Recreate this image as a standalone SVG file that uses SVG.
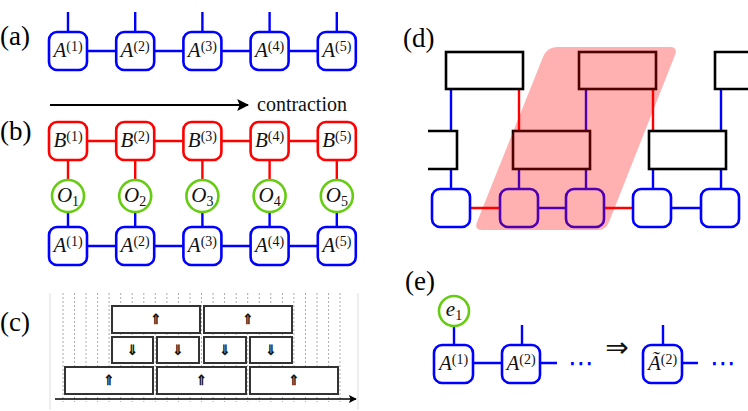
<svg xmlns="http://www.w3.org/2000/svg" width="748" height="411" viewBox="0 0 748 411">
<style>
.t{font-size:21px;fill:#111;text-anchor:middle}
.it{font-style:italic}
.bn{fill:#fff;stroke:#0000ff;stroke-width:2.6}
.rn{fill:#fff;stroke:#ff0000;stroke-width:2.6}
.gn{fill:#fff;stroke:#66cc11;stroke-width:2.6}
.bl{stroke:#0000ff;stroke-width:2.4;fill:none}
.rl{stroke:#ff0000;stroke-width:2.4;fill:none}
.kb{fill:#fff;stroke:#000;stroke-width:2.6}
.cb{fill:#fff;stroke:#333;stroke-width:2}
.dash{stroke:#aaa;stroke-width:1;stroke-dasharray:2 2}
.sym{font-size:14px;fill:#000;stroke:#000;stroke-width:0.4;text-anchor:middle}
</style>
<defs>
<marker id="ah" viewBox="0 0 10 10" refX="9" refY="5" markerWidth="6" markerHeight="6" orient="auto"><path d="M0,0 L10,5 L0,10 L2,5 Z" fill="#000"/></marker>
</defs>

<g font-family="'Times New Roman', 'Liberation Serif', serif">
<!-- labels -->
<g font-size="27" fill="#000">
<text x="0" y="45">(a)</text>
<text x="0" y="140">(b)</text>
<text x="0" y="331">(c)</text>
<text x="403" y="47">(d)</text>
<text x="405" y="290">(e)</text>
</g>

<!-- (a) -->
<g id="a-connectors">
<path class="bl" d="M68,12V32 M135.2,12V32 M202.4,12V32 M269.6,12V32 M336.8,12V32 M87,51H116.2 M154.2,51H183.4 M221.4,51H250.6 M288.6,51H317.8"/>
</g>
<g id="a-A1"><rect class="bn" x="49" y="32" width="38" height="38" rx="8"/><text class="t" x="68" y="57"><tspan class="it">A</tspan><tspan dy="-6" font-size="14">(1)</tspan></text></g>
<g id="a-A2"><rect class="bn" x="116.2" y="32" width="38" height="38" rx="8"/><text class="t" x="135.2" y="57"><tspan class="it">A</tspan><tspan dy="-6" font-size="14">(2)</tspan></text></g>
<g id="a-A3"><rect class="bn" x="183.4" y="32" width="38" height="38" rx="8"/><text class="t" x="202.4" y="57"><tspan class="it">A</tspan><tspan dy="-6" font-size="14">(3)</tspan></text></g>
<g id="a-A4"><rect class="bn" x="250.6" y="32" width="38" height="38" rx="8"/><text class="t" x="269.6" y="57"><tspan class="it">A</tspan><tspan dy="-6" font-size="14">(4)</tspan></text></g>
<g id="a-A5"><rect class="bn" x="317.8" y="32" width="38" height="38" rx="8"/><text class="t" x="336.8" y="57"><tspan class="it">A</tspan><tspan dy="-6" font-size="14">(5)</tspan></text></g>

<!-- (b) -->
<g id="b-arrow">
<line x1="50" y1="105" x2="248" y2="105" stroke="#000" stroke-width="2" marker-end="url(#ah)"/>
<text x="257" y="111" font-size="20" fill="#111">contraction</text>
</g>
<g id="b-connectors">
<path class="rl" d="M87,141H116.2 M154.2,141H183.4 M221.4,141H250.6 M288.6,141H317.8 M68,160V180 M135.2,160V180 M202.4,160V180 M269.6,160V180 M336.8,160V180"/>
<path class="bl" d="M87,246H116.2 M154.2,246H183.4 M221.4,246H250.6 M288.6,246H317.8 M68,212V227 M135.2,212V227 M202.4,212V227 M269.6,212V227 M336.8,212V227"/>
</g>
<g id="b-B1"><rect class="rn" x="49" y="122" width="38" height="38" rx="8"/><text class="t" x="68" y="147"><tspan class="it">B</tspan><tspan dy="-6" font-size="14">(1)</tspan></text></g>
<g id="b-B2"><rect class="rn" x="116.2" y="122" width="38" height="38" rx="8"/><text class="t" x="135.2" y="147"><tspan class="it">B</tspan><tspan dy="-6" font-size="14">(2)</tspan></text></g>
<g id="b-B3"><rect class="rn" x="183.4" y="122" width="38" height="38" rx="8"/><text class="t" x="202.4" y="147"><tspan class="it">B</tspan><tspan dy="-6" font-size="14">(3)</tspan></text></g>
<g id="b-B4"><rect class="rn" x="250.6" y="122" width="38" height="38" rx="8"/><text class="t" x="269.6" y="147"><tspan class="it">B</tspan><tspan dy="-6" font-size="14">(4)</tspan></text></g>
<g id="b-B5"><rect class="rn" x="317.8" y="122" width="38" height="38" rx="8"/><text class="t" x="336.8" y="147"><tspan class="it">B</tspan><tspan dy="-6" font-size="14">(5)</tspan></text></g>
<g id="b-O1"><circle class="gn" cx="68" cy="196" r="16"/><text class="t" x="68" y="202"><tspan class="it">O</tspan><tspan dy="4" font-size="14">1</tspan></text></g>
<g id="b-O2"><circle class="gn" cx="135.2" cy="196" r="16"/><text class="t" x="135.2" y="202"><tspan class="it">O</tspan><tspan dy="4" font-size="14">2</tspan></text></g>
<g id="b-O3"><circle class="gn" cx="202.4" cy="196" r="16"/><text class="t" x="202.4" y="202"><tspan class="it">O</tspan><tspan dy="4" font-size="14">3</tspan></text></g>
<g id="b-O4"><circle class="gn" cx="269.6" cy="196" r="16"/><text class="t" x="269.6" y="202"><tspan class="it">O</tspan><tspan dy="4" font-size="14">4</tspan></text></g>
<g id="b-O5"><circle class="gn" cx="336.8" cy="196" r="16"/><text class="t" x="336.8" y="202"><tspan class="it">O</tspan><tspan dy="4" font-size="14">5</tspan></text></g>
<g id="b-A1"><rect class="bn" x="49" y="227" width="38" height="38" rx="8"/><text class="t" x="68" y="252"><tspan class="it">A</tspan><tspan dy="-6" font-size="14">(1)</tspan></text></g>
<g id="b-A2"><rect class="bn" x="116.2" y="227" width="38" height="38" rx="8"/><text class="t" x="135.2" y="252"><tspan class="it">A</tspan><tspan dy="-6" font-size="14">(2)</tspan></text></g>
<g id="b-A3"><rect class="bn" x="183.4" y="227" width="38" height="38" rx="8"/><text class="t" x="202.4" y="252"><tspan class="it">A</tspan><tspan dy="-6" font-size="14">(3)</tspan></text></g>
<g id="b-A4"><rect class="bn" x="250.6" y="227" width="38" height="38" rx="8"/><text class="t" x="269.6" y="252"><tspan class="it">A</tspan><tspan dy="-6" font-size="14">(4)</tspan></text></g>
<g id="b-A5"><rect class="bn" x="317.8" y="227" width="38" height="38" rx="8"/><text class="t" x="336.8" y="252"><tspan class="it">A</tspan><tspan dy="-6" font-size="14">(5)</tspan></text></g>

<!-- (c) -->
<g id="c-frame">
<line x1="50" y1="293" x2="50" y2="410" stroke="#ddd" stroke-width="1"/>
<line x1="358" y1="293" x2="358" y2="410" stroke="#ddd" stroke-width="1"/>
<path class="dash" d="M63,293V402 M74.5,293V402 M86,293V402 M97.6,293V402 M109.1,293V402 M120.7,293V402 M132.2,293V402 M143.8,293V402 M155.3,293V402 M166.9,293V402 M178.4,293V402 M190,293V402 M201.5,293V402 M213.1,293V402 M224.6,293V402 M236.2,293V402 M247.7,293V402 M259.3,293V402 M270.8,293V402 M282.4,293V402 M293.9,293V402 M305.5,293V402 M317,293V402 M328.6,293V402 M340,293V402"/>
<line x1="55" y1="399" x2="356" y2="399" stroke="#000" stroke-width="1.3" marker-end="url(#ah)"/>
</g>
<g font-family="'DejaVu Sans', sans-serif">
<g id="c-t1"><rect class="cb" x="112" y="306" width="88" height="27"/><text class="sym" x="156" y="324">⇑</text></g>
<g id="c-t2"><rect class="cb" x="204" y="306" width="88" height="27"/><text class="sym" x="248" y="324">⇑</text></g>
<g id="c-m1"><rect class="cb" x="112" y="337" width="41" height="26"/><text class="sym" x="132.5" y="355">⇓</text></g>
<g id="c-m2"><rect class="cb" x="157" y="337" width="42" height="26"/><text class="sym" x="178" y="355">⇓</text></g>
<g id="c-m3"><rect class="cb" x="204" y="337" width="42" height="26"/><text class="sym" x="225" y="355">⇓</text></g>
<g id="c-m4"><rect class="cb" x="250" y="337" width="42" height="26"/><text class="sym" x="271" y="355">⇓</text></g>
<g id="c-b1"><rect class="cb" x="65" y="367" width="88" height="27"/><text class="sym" x="109" y="385">⇑</text></g>
<g id="c-b2"><rect class="cb" x="157" y="367" width="89" height="27"/><text class="sym" x="201.5" y="385">⇑</text></g>
<g id="c-b3"><rect class="cb" x="250" y="367" width="88" height="27"/><text class="sym" x="294" y="385">⇑</text></g>
</g>

<!-- (d) -->
<g id="d-connectors">
<path class="bl" d="M451,89V131 M451,169V188 M586,89V131 M721,89V131 M519,169V188 M586,169V188 M653,169V188 M721,169V188 M538,208H566 M672,208H701"/>
<path class="rl" d="M519,89V131 M653,89V131 M470,208H500 M604,208H633"/>
</g>
<g id="d-top1"><rect class="kb" x="446" y="52" width="77" height="37"/></g>
<g id="d-top2"><rect class="kb" x="579" y="52" width="77" height="37"/></g>
<g id="d-top3"><path class="kb" d="M748,52H715V89H748"/></g>
<g id="d-mid1"><path class="kb" d="M428,131H457V169H428"/></g>
<g id="d-mid2"><rect class="kb" x="513" y="131" width="77" height="38"/></g>
<g id="d-mid3"><rect class="kb" x="649" y="131" width="77" height="38"/></g>
<g id="d-n1"><rect class="bn" x="432" y="189" width="38" height="38" rx="8"/></g>
<g id="d-n2"><rect class="bn" x="500" y="189" width="38" height="38" rx="8"/></g>
<g id="d-n3"><rect class="bn" x="566" y="189" width="38" height="38" rx="8"/></g>
<g id="d-n4"><rect class="bn" x="633" y="189" width="38" height="38" rx="8"/></g>
<g id="d-n5"><rect class="bn" x="701" y="189" width="38" height="38" rx="8"/></g>
<g id="d-highlight">
<path d="M557,47H670Q678,47 675,55L609,222Q606,230 598,230H482Q474,230 477,222L543,57Q547,47 557,47Z" fill="#ff0000" fill-opacity="0.31"/>
</g>

<!-- (e) -->
<g id="e-connectors">
<path class="bl" d="M454,326V345 M522,325V345 M473,363H502 M540,363H557 M663,325V345 M682,363H698"/>
</g>
<g id="e-e1"><circle class="gn" cx="454" cy="311" r="15"/><text class="t" x="454" y="316"><tspan class="it">e</tspan><tspan dy="4" font-size="14">1</tspan></text></g>
<g id="e-A1"><rect class="bn" x="434" y="345" width="39" height="38" rx="8"/><text class="t" x="453.5" y="370"><tspan class="it">A</tspan><tspan dy="-6" font-size="14">(1)</tspan></text></g>
<g id="e-A2"><rect class="bn" x="502" y="345" width="38" height="38" rx="8"/><text class="t" x="521" y="370"><tspan class="it">A</tspan><tspan dy="-6" font-size="14">(2)</tspan></text></g>
<g id="e-At2"><rect class="bn" x="643" y="345" width="39" height="38" rx="8"/><text class="t" x="662.5" y="370"><tspan class="it">Ã</tspan><tspan dy="-6" font-size="14">(2)</tspan></text></g>
<g font-family="'DejaVu Sans', sans-serif">
<text x="582" y="372" font-size="26" fill="#0000ff" text-anchor="middle" letter-spacing="2">⋯</text>
<text x="617" y="357" font-size="28" fill="#111" text-anchor="middle">⇒</text>
<text x="723" y="372" font-size="26" fill="#0000ff" text-anchor="middle">⋯</text>
</g>
</g>
</svg>
